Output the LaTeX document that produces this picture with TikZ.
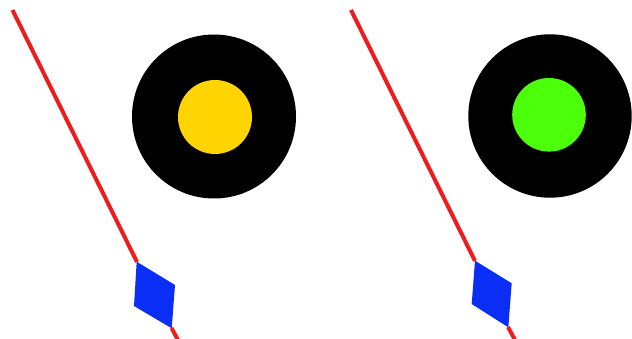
\documentclass[tikz,border=0pt]{standalone}
\definecolor{redline}{HTML}{EE1C1C}
\definecolor{bluegem}{HTML}{0A2EF5}
\definecolor{amber}{HTML}{FFD400}
\definecolor{lime}{HTML}{4CFF0A}
\begin{document}
\begin{tikzpicture}[x=1pt,y=-1pt,
  rail/.style={draw=redline,line width=4pt,line cap=butt},
  gem/.style={fill=bluegem,draw=none},
  outerdisc/.style={fill=black},
  ]
\useasboundingbox (0,0) rectangle (632,339);
\clip (0,0) rectangle (632,339);
\fill[white] (0,0) rectangle (632,339);
% left panel
\draw[rail] (12.5,10) -- (137,262);
\draw[rail] (171.5,328) -- (178,340);
\fill[gem] (136.7,261.7) -- (175,285) -- (171.7,328.3) -- (134,306) -- cycle;
\fill[outerdisc] (214,116.5) circle (82);
\fill[amber] (215,117) circle (37);
% right panel
\draw[rail] (351,10) -- (475,261);
\draw[rail] (508,327) -- (515,340);
\fill[gem] (475,260.7) -- (511.7,283.3) -- (508.3,327.3) -- (471.7,304) -- cycle;
\fill[outerdisc] (550,116) circle (81.7);
\fill[lime] (549,114.8) circle (36.8);
\end{tikzpicture}
\end{document}
